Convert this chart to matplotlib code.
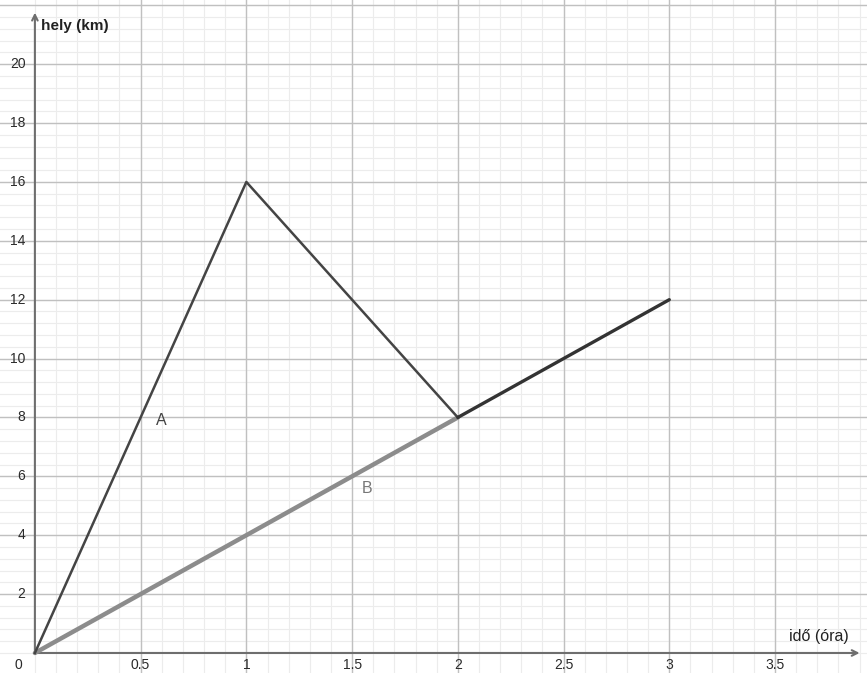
import numpy as np
import matplotlib.pyplot as plt

# mozgás adatai (idő óra, hely km)
a_t = [0, 1, 2]
a_x = [0, 16, 8]
b_t = [0, 2]
b_x = [0, 8]
common_t = [2, 3]
common_x = [8, 12]

x_ticks = [0.5, 1, 1.5, 2, 2.5, 3, 3.5]
y_ticks = [2, 4, 6, 8, 10, 12, 14, 16, 18, 20]

plt.rcParams['font.family'] = ['Liberation Sans', 'DejaVu Sans']

fig = plt.figure(figsize=(8.67, 6.73), dpi=100)
ax = fig.add_axes([0, 0, 1, 1])
ax.set_xlim(-0.165, 3.935)
ax.set_ylim(-0.68, 22.18)

# rács
for v in np.arange(0, 4.0, 0.1):
    ax.axvline(v, color='#ececec', lw=0.8, zorder=0)
for v in np.arange(0, 22.1, 0.4):
    ax.axhline(v, color='#ececec', lw=0.8, zorder=0)
for v in np.arange(0.5, 4.0, 0.5):
    ax.axvline(v, color='#c0c0c0', lw=1.0, zorder=0.5)
for v in np.arange(2, 22.1, 2):
    ax.axhline(v, color='#c0c0c0', lw=1.0, zorder=0.5)

for s in ax.spines.values():
    s.set_visible(False)
ax.set_xticks([])
ax.set_yticks([])

# tengelyek nyíllal
ax.annotate('', xy=(3.9, 0), xytext=(0, 0),
            arrowprops=dict(arrowstyle='->', color='#6e6e6e', lw=1.5, shrinkA=0, shrinkB=0))
ax.annotate('', xy=(0, 21.75), xytext=(0, 0),
            arrowprops=dict(arrowstyle='->', color='#6e6e6e', lw=1.5, shrinkA=0, shrinkB=0))

for t in x_ticks:
    ax.text(t, -0.42, f'{t:g}', ha='center', va='center', fontsize=10, color='#2a2a2a')
for y in y_ticks:
    ax.text(-0.045, y, f'{y:g}', ha='right', va='center', fontsize=10, color='#2a2a2a')
ax.text(-0.08, -0.42, '0', ha='center', va='center', fontsize=10, color='#2a2a2a')

ax.text(0.03, 21.3, 'hely (km)', ha='left', va='center', fontsize=11,
        fontweight='bold', color='#222222')
ax.text(3.85, 0.55, 'idő (óra)', ha='right', va='center', fontsize=11.5, color='#222222')

# vonalak
ax.plot(b_t, b_x, color='#8c8c8c', lw=3.2, solid_capstyle='round', zorder=3)
ax.plot(a_t, a_x, color='#444444', lw=1.8, zorder=4)
ax.plot(common_t, common_x, color='#333333', lw=2.4, solid_capstyle='round', zorder=4)

ax.text(0.6, 7.9, 'A', ha='center', va='center', fontsize=11.5, color='#444444')
ax.text(1.57, 5.6, 'B', ha='center', va='center', fontsize=11.5, color='#777777')

fig.savefig('out.png', dpi=100)
